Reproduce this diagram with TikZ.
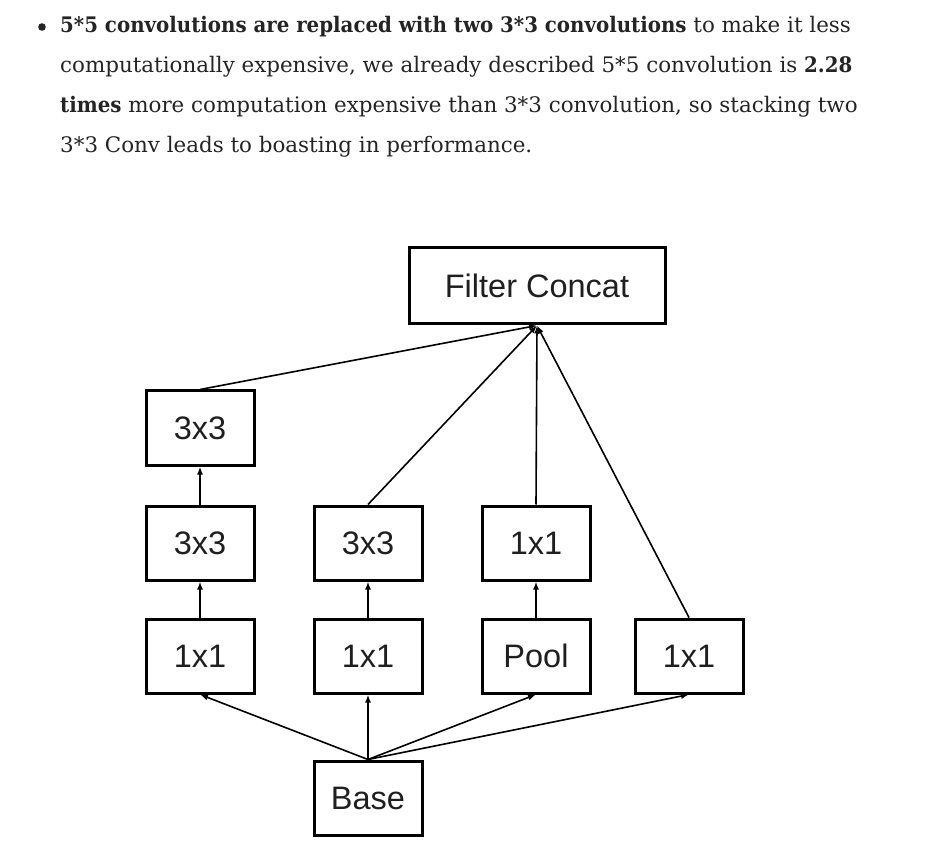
\documentclass[tikz,border=0pt]{standalone}
\usepackage{fontspec}
\setmainfont{DejaVu Serif}[BoldFeatures={FakeStretch=0.925}]
\newfontfamily\arialfont{Liberation Sans}
\usetikzlibrary{arrows.meta}
\definecolor{inkgray}{rgb}{0.14,0.14,0.14}

\tikzset{
  layer/.style={draw, line width=3pt, minimum width=108pt, minimum height=74pt, inner sep=0pt,
    font=\arialfont\fontsize{32.5}{36}\selectfont, text=black!88},
  flow/.style={-{Latex[length=8pt,width=6pt]}, line width=1.6pt},
  para/.style={anchor=base west, inner sep=0pt, text=inkgray, font=\fontsize{21.4}{26}\selectfont}
}

\begin{document}
\begin{tikzpicture}[x=1pt, y=-1pt]
	\useasboundingbox (0,0) rectangle (927,850);
	\fill[inkgray] (42,27) circle (3.8);
	\node[para] (l1) at (60,33) {\textbf{5*5 convolutions are replaced with two 3*3 convolutions} to make it less};
	\node[para] (l2) at (60,73) {computationally expensive, we already described 5*5 convolution is \textbf{2.28}};
	\node[para] (l3) at (60,113) {\textbf{times} more computation expensive than 3*3 convolution, so stacking two};
	\node[para] (l4) at (60,153) {3*3 Conv leads to boasting in performance.};

	\node[layer, minimum width=256pt, minimum height=76pt] (concat) at (537,286) {Filter Concat};
	\node[layer] (c3b) at (200,428) {3x3};
	\node[layer] (c3a) at (200,543) {3x3};
	\node[layer] (c3) at (368,543) {3x3};
	\node[layer] (p1) at (536,543) {1x1};
	\node[layer] (r1a) at (200,656) {1x1};
	\node[layer] (r1b) at (368,656) {1x1};
	\node[layer] (pool) at (536,656) {Pool};
	\node[layer] (r1c) at (689,656) {1x1};
	\node[layer] (base) at (368,798) {Base};

	\draw[flow] (base.north) -- (r1a.south);
	\draw[flow] (base.north) -- (r1b.south);
	\draw[flow] (base.north) -- (pool.south);
	\draw[flow] (base.north) -- (r1c.south);
	\draw[flow] (r1a) -- (c3a);
	\draw[flow] (r1b) -- (c3);
	\draw[flow] (pool) -- (p1);
	\draw[flow] (c3a) -- (c3b);
	\draw[flow] (c3b.north) -- (concat.south);
	\draw[flow] (c3.north) -- (concat.south);
	\draw[flow] (p1.north) -- (concat.south);
	\draw[flow] (r1c.north) -- (concat.south);
\end{tikzpicture}
\end{document}
